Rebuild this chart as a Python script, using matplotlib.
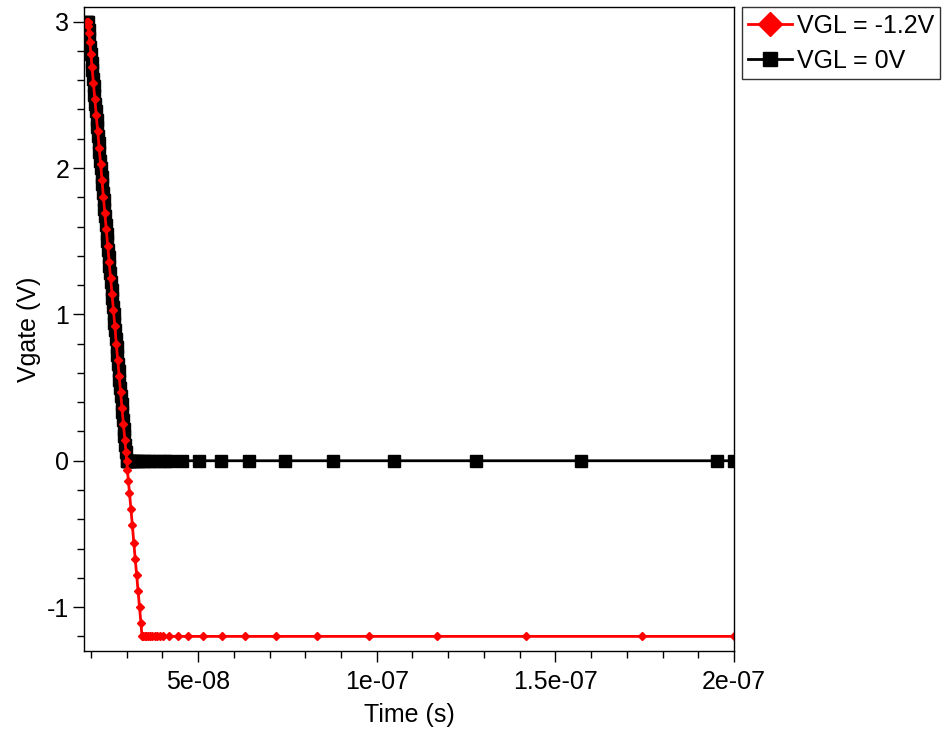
import numpy as np
import matplotlib
matplotlib.use('Agg')
import matplotlib.pyplot as plt
from matplotlib.ticker import MultipleLocator, FuncFormatter
from matplotlib.lines import Line2D

plt.rcParams['font.family'] = ['Liberation Sans', 'DejaVu Sans']

# time in units of 1e-8 s, gate voltage in V
t_red = [1.88, 1.90, 1.91, 1.92, 1.93, 1.95, 1.97, 2.00, 2.03, 2.07, 2.11, 2.15,
         2.19, 2.23, 2.27, 2.31, 2.35, 2.39, 2.43, 2.47, 2.51, 2.55, 2.59, 2.63,
         2.67, 2.71, 2.75, 2.79, 2.83, 2.87, 2.91, 2.95, 2.98, 3.00, 3.02, 3.05,
         3.08, 3.12, 3.16, 3.20, 3.24, 3.28, 3.32, 3.36, 3.40, 3.43,
         3.46, 3.50, 3.55, 3.60, 3.66, 3.72, 3.79, 3.86, 3.93, 4.02, 4.18, 4.44,
         4.72, 5.14, 5.67, 6.32, 7.18, 8.33, 9.79, 11.69, 14.18, 17.43, 20.0]
v_red = [3.0, 3.0, 3.0, 3.0, 2.97, 2.92, 2.86, 2.78, 2.69, 2.58, 2.47, 2.36,
         2.25, 2.14, 2.03, 1.92, 1.80, 1.69, 1.58, 1.47, 1.36, 1.25, 1.14, 1.03,
         0.92, 0.80, 0.69, 0.58, 0.47, 0.36, 0.25, 0.14, 0.06, 0.0, -0.06, -0.14,
         -0.22, -0.33, -0.44, -0.56, -0.67, -0.78, -0.89, -1.0, -1.11, -1.2,
         -1.2, -1.2, -1.2, -1.2, -1.2, -1.2, -1.2, -1.2, -1.2, -1.2, -1.2, -1.2,
         -1.2, -1.2, -1.2, -1.2, -1.2, -1.2, -1.2, -1.2, -1.2, -1.2, -1.2]

t_blk = [1.88, 1.90, 1.92, 1.94, 1.96, 1.98, 2.00, 2.02, 2.04, 2.06, 2.08, 2.10,
         2.12, 2.14, 2.16, 2.18, 2.20, 2.22, 2.24, 2.26, 2.28, 2.30, 2.32, 2.34,
         2.36, 2.38, 2.40, 2.42, 2.44, 2.46, 2.48, 2.50, 2.52, 2.54, 2.56, 2.58,
         2.60, 2.62, 2.64, 2.66, 2.68, 2.70, 2.72, 2.74, 2.76, 2.78, 2.80, 2.82,
         2.84, 2.86, 2.88, 2.90, 2.92, 2.94, 2.96, 2.98,
         3.00, 3.02, 3.05, 3.08, 3.12, 3.17, 3.23, 3.30, 3.38, 3.48, 3.60, 3.74,
         3.90, 4.06, 4.22, 4.55, 5.03, 5.64, 6.43, 7.43, 8.78, 10.49, 12.78,
         15.72, 19.53, 20.0]
v_blk = [3.0, 3.0, 3.0, 2.94, 2.89, 2.83, 2.78, 2.72, 2.67, 2.61, 2.56, 2.50,
         2.44, 2.39, 2.33, 2.28, 2.22, 2.17, 2.11, 2.05, 2.00, 1.94, 1.89, 1.83,
         1.78, 1.72, 1.67, 1.61, 1.55, 1.50, 1.44, 1.39, 1.33, 1.28, 1.22, 1.17,
         1.11, 1.05, 1.00, 0.94, 0.89, 0.83, 0.78, 0.72, 0.66, 0.61, 0.55, 0.50,
         0.44, 0.39, 0.33, 0.28, 0.22, 0.17, 0.11, 0.06,
         0.0, 0.0, 0.0, 0.0, 0.0, 0.0, 0.0, 0.0, 0.0, 0.0, 0.0, 0.0,
         0.0, 0.0, 0.0, 0.0, 0.0, 0.0, 0.0, 0.0, 0.0, 0.0, 0.0,
         0.0, 0.0, 0.0]

labels = ['VGL = -1.2V', 'VGL = 0V']

t_red = np.array(t_red) * 1e-8
t_blk = np.array(t_blk) * 1e-8

fig = plt.figure(figsize=(9.45, 7.31), dpi=100)
ax = fig.add_axes([0.0894, 0.1094, 0.6873, 0.881])

ax.plot(t_blk, v_blk, color='black', lw=2, marker='s', ms=8, mec='black', mfc='black')
ax.plot(t_red, v_red, color='#ff0000', lw=2, marker='D', ms=4.5, mec='#ff0000', mfc='#ff0000')

ax.set_xlim(1.82e-8, 2e-7)
ax.set_ylim(-1.3, 3.1)
ax.xaxis.set_major_locator(MultipleLocator(5e-8))
ax.xaxis.set_minor_locator(MultipleLocator(1e-8))
ax.yaxis.set_major_locator(MultipleLocator(1))
ax.yaxis.set_minor_locator(MultipleLocator(0.2))

ax.xaxis.set_major_formatter(FuncFormatter(lambda v, p: '%g' % v))
ax.yaxis.set_major_formatter(FuncFormatter(lambda v, p: '%d' % round(v)))

ax.tick_params(which='major', direction='out', length=8, width=1, labelsize=18)
ax.tick_params(axis='x', which='major', pad=6)
ax.tick_params(axis='y', which='major', pad=3)
ax.tick_params(which='minor', direction='out', length=5, width=1)
ax.tick_params(top=False, right=False, which='both')
for s in ax.spines.values():
    s.set_linewidth(1)

ax.set_xlabel('Time (s)', fontsize=18, labelpad=6)
ax.set_ylabel('Vgate (V)', fontsize=18, labelpad=4)

handles = [Line2D([], [], color='#ff0000', lw=2, marker='D', ms=12),
           Line2D([], [], color='black', lw=2, marker='s', ms=9.5)]
leg = fig.legend(handles, labels, loc='upper left', bbox_to_anchor=(0.785, 0.99),
                 fontsize=18, frameon=True, fancybox=False, edgecolor='black',
                 handlelength=1.75, handletextpad=0.2, borderpad=0.25,
                 labelspacing=0.45, borderaxespad=0)
leg.get_frame().set_linewidth(1)

fig.savefig('out.png', dpi=100)
